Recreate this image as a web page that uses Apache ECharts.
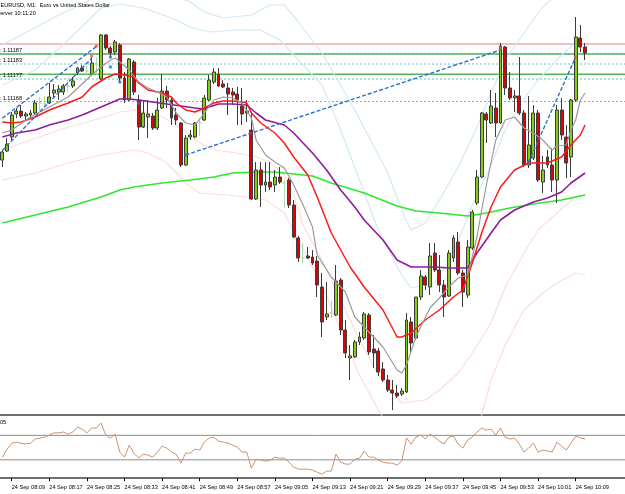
<!DOCTYPE html>
<html><head><meta charset="utf-8">
<script src="https://cdn.jsdelivr.net/npm/echarts/dist/echarts.min.js"></script>
<style>html,body{margin:0;padding:0;background:#fff;overflow:hidden}#c{width:625px;height:494px}</style>
</head><body><div id="c"></div>
<script>
const dateText = "24 Sep";
const categories = ["08:07","08:08","08:09","08:10","08:11","08:12","08:13","08:14","08:15","08:16","08:17","08:18","08:19","08:20","08:21","08:22","08:23","08:24","08:25","08:26","08:27","08:28","08:29","08:30","08:31","08:32","08:33","08:34","08:35","08:36","08:37","08:38","08:39","08:40","08:41","08:42","08:43","08:44","08:45","08:46","08:47","08:48","08:49","08:50","08:51","08:52","08:53","08:54","08:55","08:56","08:57","08:58","08:59",
"09:00","09:01","09:02","09:03","09:04","09:05","09:06","09:07","09:08","09:09","09:10","09:11","09:12","09:13","09:14","09:15","09:16","09:17","09:18","09:19","09:20","09:21","09:22","09:23","09:24","09:25","09:26","09:27","09:28","09:29","09:30","09:31","09:32","09:33","09:34","09:35","09:36","09:37","09:38","09:39","09:40","09:41","09:42","09:43","09:44","09:45","09:46","09:47","09:48","09:49","09:50","09:51","09:52","09:53","09:54","09:55","09:56","09:57","09:58","09:59",
"10:00","10:01","10:02","10:03","10:04","10:05","10:06","10:07","10:08","10:09","10:10","10:11","10:12","10:13","10:14","10:15","10:16","10:17","10:18","10:19"];
const tickLabels = ["08:09","08:17","08:25","08:33","08:41","08:49","08:57","09:05","09:13","09:21","09:29","09:37","09:45","09:53","10:01","10:09"];

const opens = [1.111446,1.111482,1.111538,1.111630,1.111642,1.111622,1.111626,1.111634,1.111674,1.111670,
1.111674,1.111714,1.111718,1.111718,1.111742,1.111742,1.111794,1.111814,1.111802,1.111790,
1.111830,1.111770,1.111946,1.111894,1.111878,1.111906,1.111774,1.111686,1.111838,1.111686,
1.111578,1.111618,1.111622,1.111574,1.111654,1.111722,1.111686,1.111626,1.111594,1.111426,
1.111538,1.111538,1.111594,1.111606,1.111686,1.111758,1.111790,1.111750,1.111734,1.111718,
1.111710,1.111662,1.111634,1.111566,1.111290,1.111406,1.111346,1.111358,1.111346,1.111378,
1.111354,1.111366,1.111266,1.111134,1.111054,1.111062,1.111058,1.111042,1.110938,1.110818,
1.110834,1.110826,1.110966,1.110766,1.110654,1.110658,1.110718,1.110734,1.110826,1.110690,
1.110682,1.110610,1.110566,1.110526,1.110514,1.110510,1.110518,1.110798,1.110734,1.110898,
1.110978,1.110938,1.111074,1.111006,1.110946,1.110902,1.111054,1.111118,1.110994,1.110906,
1.111094,1.111274,1.111378,1.111630,1.111594,1.111654,1.111594,1.111898,1.111734,1.111694,
1.111702,1.111634,1.111426,1.111454,1.111634,1.111358,1.111458,1.111426,1.111366,1.111646,
1.111538,1.111458,1.111686,1.111934,1.111898];
const closes = [1.111478,1.111510,1.111626,1.111642,1.111622,1.111630,1.111634,1.111674,1.111674,1.111670,
1.111698,1.111726,1.111730,1.111742,1.111742,1.111762,1.111814,1.111802,1.111802,1.111834,
1.111830,1.111946,1.111894,1.111874,1.111918,1.111774,1.111686,1.111850,1.111718,1.111578,
1.111634,1.111630,1.111574,1.111646,1.111722,1.111686,1.111614,1.111606,1.111426,1.111534,
1.111546,1.111594,1.111594,1.111694,1.111766,1.111798,1.111742,1.111738,1.111710,1.111706,
1.111686,1.111630,1.111642,1.111290,1.111406,1.111346,1.111358,1.111338,1.111378,1.111358,
1.111354,1.111266,1.111138,1.111054,1.111054,1.111054,1.111034,1.110946,1.110798,1.110830,
1.110834,1.110962,1.110766,1.110674,1.110662,1.110718,1.110738,1.110830,1.110678,1.110674,
1.110598,1.110566,1.110526,1.110514,1.110502,1.110522,1.110806,1.110714,1.110898,1.110982,
1.110946,1.111062,1.111006,1.110946,1.110898,1.111074,1.111134,1.110994,1.110918,1.111098,
1.111238,1.111378,1.111634,1.111606,1.111662,1.111594,1.111902,1.111734,1.111694,1.111702,
1.111634,1.111426,1.111506,1.111634,1.111366,1.111406,1.111426,1.111366,1.111646,1.111546,
1.111434,1.111686,1.111938,1.111898,1.111874];
const lows = [1.111418,1.111478,1.111526,1.111614,1.111614,1.111606,1.111614,1.111626,1.111646,1.111654,
1.111670,1.111698,1.111686,1.111706,1.111718,1.111734,1.111786,1.111798,1.111782,1.111782,
1.111786,1.111766,1.111886,1.111854,1.111866,1.111758,1.111674,1.111682,1.111706,1.111526,
1.111574,1.111534,1.111566,1.111566,1.111650,1.111654,1.111586,1.111586,1.111418,1.111422,
1.111526,1.111534,1.111542,1.111602,1.111682,1.111750,1.111738,1.111734,1.111626,1.111666,
1.111586,1.111586,1.111598,1.111286,1.111286,1.111258,1.111318,1.111326,1.111318,1.111350,
1.111254,1.111254,1.111134,1.111038,1.111034,1.111050,1.111026,1.110898,1.110738,1.110806,
1.110814,1.110822,1.110746,1.110654,1.110566,1.110654,1.110706,1.110726,1.110666,1.110614,
1.110582,1.110558,1.110518,1.110446,1.110494,1.110502,1.110514,1.110674,1.110726,1.110886,
1.110926,1.110906,1.110998,1.110918,1.110818,1.110898,1.111038,1.110986,1.110858,1.110894,
1.111086,1.111266,1.111374,1.111514,1.111590,1.111538,1.111590,1.111706,1.111686,1.111638,
1.111626,1.111418,1.111414,1.111446,1.111358,1.111314,1.111414,1.111318,1.111274,1.111526,
1.111374,1.111378,1.111678,1.111878,1.111846];
const highs = [1.111486,1.111534,1.111638,1.111654,1.111666,1.111638,1.111646,1.111686,1.111698,1.111702,
1.111754,1.111750,1.111746,1.111750,1.111766,1.111778,1.111818,1.111826,1.111822,1.111858,
1.111858,1.111950,1.111950,1.111902,1.111926,1.111914,1.111798,1.111854,1.111846,1.111706,
1.111686,1.111686,1.111634,1.111694,1.111790,1.111742,1.111694,1.111654,1.111598,1.111546,
1.111566,1.111598,1.111614,1.111706,1.111786,1.111814,1.111814,1.111766,1.111754,1.111734,
1.111738,1.111734,1.111686,1.111638,1.111438,1.111438,1.111438,1.111438,1.111406,1.111418,
1.111366,1.111374,1.111286,1.111142,1.111114,1.111098,1.111086,1.111062,1.110994,1.110958,
1.110886,1.111026,1.110974,1.110806,1.110706,1.110726,1.110758,1.110838,1.110834,1.110746,
1.110694,1.110638,1.110586,1.110566,1.110546,1.110534,1.110834,1.110818,1.110898,1.111006,
1.110986,1.111114,1.111114,1.111066,1.110966,1.111086,1.111146,1.111158,1.111006,1.111126,
1.111246,1.111406,1.111638,1.111638,1.111726,1.111714,1.111914,1.111902,1.111798,1.111726,
1.111858,1.111646,1.111702,1.111666,1.111646,1.111462,1.111486,1.111494,1.111666,1.111694,
1.111586,1.111690,1.112018,1.111986,1.111914];

// moving averages and bands, as [candle index, price]
const maFast = [[0,1.111554],[2,1.111566],[6,1.111618],[10,1.111658],[14,1.111698],[19,1.111786],[21,1.111818],[23,1.111846],[24,1.111854],[25,1.111838],[27,1.111806],[29,1.111758],[31,1.111734],[33,1.111718],[35,1.111698],[37,1.111634],[39,1.111594],[41,1.111586],[43,1.111634],[45,1.111686],[47,1.111698],[49,1.111694],[51,1.111674],[53,1.111614],[54,1.111526],[56,1.111466],[58,1.111438],[60,1.111414],[62,1.111346],[64,1.111266],[66,1.111178],[67,1.111066],[70,1.110978],[73,1.110918],[75,1.110818],[78,1.110758],[81,1.110698],[84,1.110606],[85,1.110594],[86,1.110626],[88,1.110738],[91,1.110854],[93,1.110894],[95,1.110938],[97,1.110974],[99,1.110986],[100,1.111058],[101,1.111138],[102,1.111246],[103,1.111346],[105,1.111526],[107,1.111606],[109,1.111618],[111,1.111574],[113,1.111554],[115,1.111526],[117,1.111486],[118,1.111502],[120,1.111506],[121,1.111566],[122,1.111606],[123,1.111686],[124,1.111714]];
const maMid = [[0,1.111598],[2,1.111594],[4,1.111598],[7,1.111618],[10,1.111646],[14,1.111674],[17,1.111698],[19,1.111738],[22,1.111774],[24,1.111790],[26,1.111786],[28,1.111778],[29,1.111754],[31,1.111726],[34,1.111714],[36,1.111698],[37,1.111674],[39,1.111646],[41,1.111638],[43,1.111654],[45,1.111674],[47,1.111682],[49,1.111682],[51,1.111678],[52,1.111674],[53,1.111634],[55,1.111594],[58,1.111554],[60,1.111514],[62,1.111458],[63,1.111434],[65,1.111386],[67,1.111298],[70,1.111154],[74,1.111018],[77,1.110938],[81,1.110846],[84,1.110738],[85,1.110738],[87,1.110754],[90,1.110806],[93,1.110846],[96,1.110898],[98,1.110926],[100,1.111034],[102,1.111154],[104,1.111258],[106,1.111338],[109,1.111406],[112,1.111434],[116,1.111434],[119,1.111458],[121,1.111506],[123,1.111546],[124,1.111586]];
const maSlow = [[0,1.111538],[3,1.111554],[7,1.111566],[10,1.111586],[14,1.111606],[17,1.111626],[21,1.111658],[23,1.111674],[25,1.111690],[27,1.111690],[29,1.111686],[32,1.111678],[35,1.111670],[38,1.111662],[41,1.111654],[43,1.111650],[44,1.111658],[46,1.111670],[49,1.111670],[52,1.111666],[54,1.111634],[56,1.111606],[60,1.111586],[62,1.111554],[64,1.111514],[66,1.111474],[69,1.111406],[72,1.111326],[75,1.111258],[77,1.111206],[81,1.111126],[84,1.111046],[87,1.111018],[92,1.111018],[95,1.111014],[99,1.111014],[101,1.111074],[104,1.111154],[106,1.111206],[109,1.111246],[113,1.111278],[116,1.111294],[119,1.111318],[121,1.111354],[124,1.111394]];
const maLong = [[0,1.111194],[7,1.111226],[14,1.111258],[21,1.111298],[25,1.111326],[28,1.111338],[34,1.111354],[40,1.111366],[45,1.111378],[49,1.111394],[54,1.111398],[58,1.111398],[62,1.111390],[66,1.111382],[70,1.111354],[77,1.111314],[84,1.111262],[88,1.111242],[93,1.111234],[99,1.111222],[103,1.111234],[108,1.111254],[113,1.111270],[119,1.111286],[124,1.111306]];
const bandUpOuter = [[0,1.111906],[6,1.111966],[12,1.112026],[18,1.112078],[21,1.112126],[27,1.112146],[36,1.112106],[40,1.112078],[43,1.112038],[47,1.112014],[53,1.112026],[57,1.112066],[60,1.112066],[63,1.111998],[68,1.111874],[75,1.111646],[82,1.111394],[86,1.111198],[87,1.111166],[90,1.111194],[93,1.111286],[97,1.111418],[101,1.111578],[104,1.111714],[107,1.111846],[111,1.111954],[115,1.112058],[118,1.112106]];
const bandUpInner = [[0,1.111746],[7,1.111806],[14,1.111926],[21,1.112054],[25,1.112070],[30,1.112054],[36,1.112014],[40,1.111978],[44,1.111958],[50,1.111966],[55,1.111966],[59,1.111926],[63,1.111846],[68,1.111746],[72,1.111566],[76,1.111366],[80,1.111166],[85,1.110986],[87,1.110934],[92,1.110954],[96,1.111074],[100,1.111266],[104,1.111426],[107,1.111566],[110,1.111666],[114,1.111766],[119,1.111866],[122,1.111918],[124,1.111934]];
const bandLowInner = [[0,1.111486],[6,1.111526],[12,1.111566],[18,1.111598],[21,1.111614],[25,1.111638],[29,1.111646],[34,1.111618],[38,1.111578],[42,1.111514],[45,1.111486],[50,1.111474],[54,1.111458],[57,1.111438],[60,1.111386],[62,1.111306],[64,1.111186],[68,1.111046],[72,1.110886],[76,1.110726],[80,1.110586],[85,1.110474],[90,1.110486],[93,1.110526],[97,1.110594],[100,1.110674],[104,1.110794],[107,1.110938],[111,1.111074],[114,1.111166],[118,1.111234],[122,1.111298],[124,1.111306]];
const bandLowOuter = [[0,1.111366],[7,1.111394],[14,1.111434],[21,1.111466],[28,1.111486],[31,1.111474],[35,1.111434],[39,1.111354],[42,1.111314],[48,1.111306],[52,1.111298],[56,1.111286],[60,1.111234],[63,1.111126],[68,1.110946],[72,1.110766],[76,1.110586],[80,1.110446],[85,1.110306],[91,1.110246],[97,1.110266],[101,1.110326],[102,1.110426],[104,1.110566],[107,1.110706],[111,1.110846],[115,1.110914],[118,1.110954],[122,1.110994],[124,1.110986]];

const trendUpper = [[0,1.111613],[20,1.111900]];
const trendLower = [[0,1.111484],[19,1.111853]];
const trendLong = [[39,1.111466],[106,1.111886]];
const trendRight = [[112,1.111438],[122,1.111858]];
const redDots = [[20,1.111902],[19,1.111862],[106,1.111894],[122,1.111858]];
const blueDots = [[23,1.111858],[23,1.111818],[25,1.111758],[29,1.111674],[39,1.111466],[112,1.111438]];

const levelPink = [1.111910];
const levelGreen = [1.11187, 1.111789];
const levelDotted = [1.11187, 1.11183, 1.11177, 1.11168];
const levelLabels = ["t: 1.11187", "t: 1.11183", "t: 1.11177", "t: 1.11168"];
const levelSpan = [0, 1];   // levels run across the whole panel width

const rsi = [34,47.5,57,59,57,56,57,64,65.5,67,
70.5,74,74,75.5,72,75.5,83.6,80,74,82,
82,90,70.5,65.5,72,42.6,34.4,54,41,32.8,
39.3,37.7,34.4,42.6,52.5,49,42.6,39.3,24.6,41,
41,47.5,46,59,65.5,67,60.6,59,57.4,54,
50.8,42.6,42.6,16.4,31,29.5,27.9,29.5,34.4,32.8,
32.8,26.2,18,14.8,14.8,14.8,13.1,9.8,6.6,11.5,
11.5,39.3,26.2,23,23,31,32.8,44.3,34.4,34.4,
29.5,26.2,24.6,24.6,21.3,27.9,65.5,55.7,67,70.5,
64,72,67,60.7,55.7,67,68.9,55.7,49.2,62.3,
67,75.4,82,78.7,80.3,70.5,82,67,64,65.6,
55.7,42.6,49.2,57.4,42.6,45.9,44.3,42.6,59,52.5,
45.9,57.4,68.9,65.6,63.9];
const rsiLevels = [70, 30];

const FONT = "Liberation Sans";
const dojiStyle = {color:'#a8dca8', color0:'#a8dca8', borderColor:'#a8dca8', borderColor0:'#a8dca8', borderColorDoji:'#a8dca8'};
const candleData = opens.map((o, i) => {
  const item = {value: [o, closes[i], lows[i], highs[i]]};
  if (o === closes[i]) item.itemStyle = dojiStyle;
  return item;
});
const tickSet = new Set(tickLabels);

function lineS(name, data, color, width, z, type) {
  return {name, type:'line', data, xAxisIndex:0, yAxisIndex:0, showSymbol:false, symbol:'none',
    lineStyle:{color, width, type: type || 'solid'}, z, silent:true, animation:false};
}
function levelSeries(name, v, color, width, type, z, xi, yi) {
  return {name, type:'line', xAxisIndex:xi, yAxisIndex:yi, showSymbol:false, symbol:'none', silent:true,
    data: levelSpan.map(x => [x, v]), lineStyle:{color, width, type}, z, animation:false};
}

const chart = echarts.init(document.getElementById('c'), null, {renderer:'canvas'});
const option = {
  animation:false,
  backgroundColor:'#ffffff',
  grid:[
    {left:0, right:0, top:0, height:415, containLabel:false, outerBoundsMode:'none'},
    {left:0, right:0, top:417, height:63, containLabel:false, outerBoundsMode:'none'}
  ],
  xAxis:[
    {type:'category', gridIndex:0, data:categories, boundaryGap:true,
      axisLine:{show:true, lineStyle:{color:'#6f6f6f', width:2}}, axisTick:{show:false}, axisLabel:{show:false}, splitLine:{show:false}},
    {type:'category', gridIndex:1, data:categories, boundaryGap:true,
      axisLine:{show:true, lineStyle:{color:'#6f6f6f', width:2}},
      axisTick:{show:true, alignWithLabel:true, length:3, lineStyle:{color:'#000', width:1},
        interval:(idx, v) => tickSet.has(v)},
      axisLabel:{show:true, interval:(idx, v) => tickSet.has(v), formatter:(v) => dateText + ' ' + v,
        align:'left', margin:4, fontFamily:FONT, fontSize:5.6, color:'#000', hideOverlap:false},
      splitLine:{show:false}},
    {type:'value', gridIndex:0, min:0, max:1, show:false},
    {type:'value', gridIndex:1, min:0, max:1, show:false}
  ],
  yAxis:[
    {type:'value', gridIndex:0, min:1.110426, max:1.112086, show:false, splitLine:{show:false}},
    {type:'value', gridIndex:1, min:-3, max:100, show:false, splitLine:{show:false}}
  ],
  series:[
    ...levelPink.map((v, k) => levelSeries('pinkLevel' + k, v, '#f4a7a7', 1.5, 'solid', 1, 2, 0)),
    ...levelDotted.map((v, k) => levelSeries('dotLevel' + k, v, '#5cc3cc', 1, [2,2], 1, 2, 0)),
    ...levelGreen.map((v, k) => levelSeries('greenLevel' + k, v, '#56b356', 1.3, 'solid', 1, 2, 0)),
    lineS('bandUpOuter', bandUpOuter, '#d2eaf2', 1.2, 2),
    lineS('bandUpInner', bandUpInner, '#d2eaf2', 1.2, 2),
    lineS('bandLowInner', bandLowInner, '#ffdcdc', 1.2, 2),
    lineS('bandLowOuter', bandLowOuter, '#ffdcdc', 1.2, 2),
    lineS('maLong', maLong, '#2ee82e', 1.6, 3),
    {type:'candlestick', name:'EURUSD', xAxisIndex:0, yAxisIndex:0, data:candleData, barWidth:3.4, z:4,
      itemStyle:{color:'#80d010', color0:'#e40000', borderColor:'#3c3c3c', borderColor0:'#3c3c3c', borderColorDoji:'#a8dca8', borderWidth:1}},
    lineS('maSlow', maSlow, '#8e1c9c', 1.6, 5),
    lineS('maMid', maMid, '#ff1a1a', 1.5, 5),
    lineS('maFast', maFast, '#9a9a9a', 1.2, 5),
    lineS('trendUpper', trendUpper, '#2a74c6', 1.4, 6, [4,2]),
    lineS('trendLower', trendLower, '#2a74c6', 1.4, 6, [4,2]),
    lineS('trendLong', trendLong, '#2a74c6', 1.4, 6, [4,2]),
    lineS('trendRight', trendRight, '#2a74c6', 1.4, 6, [4,2]),
    {type:'scatter', name:'redDots', data:redDots, xAxisIndex:0, yAxisIndex:0, symbolSize:3.5, itemStyle:{color:'#f05050'}, z:7, silent:true},
    {type:'scatter', name:'blueDots', data:blueDots, xAxisIndex:0, yAxisIndex:0, symbolSize:3.5, itemStyle:{color:'#2a74c6'}, z:7, silent:true},
    ...rsiLevels.map((v, k) => levelSeries('rsiLevel' + k, v, '#8c8c8c', 1, 'solid', 2, 3, 1)),
    {type:'line', name:'RSI', data:rsi, xAxisIndex:1, yAxisIndex:1, showSymbol:false, symbol:'none',
      lineStyle:{color:'#cf9070', width:1}, z:5, silent:true}
  ]
};
chart.setOption(option);

const txt = (id, x, y, text) => ({id, type:'text', left:x, top:y, silent:true, z:100,
  style:{text, fontFamily:FONT, fontSize:5.6, fill:'#000', textVerticalAlign:'top'}});
const g = [
  txt('h1', 0.5, 2, 'EURUSD, M1:  Euro vs United States Dollar'),
  txt('h2', -3.6, 10.5, 'Server 10:11:20'),
  txt('r1', 0, 419, '05')
];
levelDotted.forEach((v, k) => {
  const py = chart.convertToPixel({yAxisIndex:0}, v);
  g.push(txt('l' + k, -2, py - 6.5, levelLabels[k]));
});
chart.setOption({graphic: g});
</script>
</body></html>
